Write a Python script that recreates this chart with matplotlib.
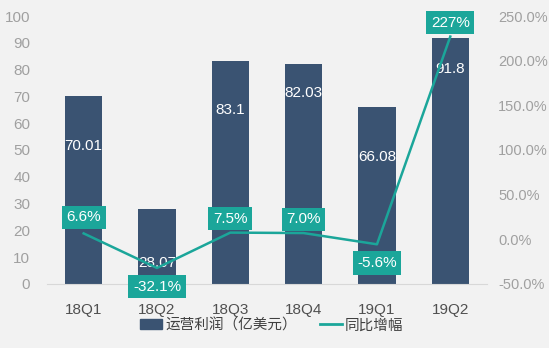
import matplotlib.pyplot as plt
from matplotlib.lines import Line2D
from matplotlib.patches import Patch

plt.rcParams['font.family'] = ['Liberation Sans', 'Noto Sans CJK SC', 'DejaVu Sans']
plt.rcParams['axes.unicode_minus'] = False

quarters = ['18Q1', '18Q2', '18Q3', '18Q4', '19Q1', '19Q2']
profit = [70.01, 28.07, 83.1, 82.03, 66.08, 91.8]
growth = [6.6, -32.1, 7.5, 7.0, -5.6, 227]
growth_text = ['6.6%', '-32.1%', '7.5%', '7.0%', '-5.6%', '227%']

# 柱内数值标签的高度（左轴单位）
profit_label_y = [51.5, 7.8, 65, 71.3, 47.4, 80.2]
# 同比标签相对折线点的偏移（点）
growth_offset = [11.5, -13.5, 10, 10, -13.5, 10]

bar_color = '#3a5372'
teal = '#1ba69a'
bg = '#f2f2f2'

fig = plt.figure(figsize=(5.49, 3.48), dpi=100, facecolor=bg)
ax = fig.add_axes([0.0856, 0.184, 0.8014, 0.77])
ax.set_facecolor(bg)
x = range(len(quarters))

ax.bar(x, profit, width=0.51, color=bar_color, zorder=2)
for i, v in enumerate(profit):
    ax.text(i, profit_label_y[i], str(v), color='white', ha='center',
            va='center', fontsize=11, zorder=3)

ax.set_ylim(0, 100)
ax.set_xlim(-0.5, 5.5)
ax.set_yticks(range(0, 101, 10))
ax.set_xticks(list(x))
ax.set_xticklabels(quarters)
ax.tick_params(axis='y', length=0, colors='#a0a0a0', labelsize=11, pad=12)
ax.tick_params(axis='x', length=0, colors='#505050', labelsize=11, pad=14)
for s in ['top', 'left', 'right']:
    ax.spines[s].set_visible(False)
ax.spines['bottom'].set_color('#d8d8d8')

ax2 = ax.twinx()
ax2.plot(x, growth, color=teal, lw=1.8, zorder=4)
ax2.set_ylim(-50, 250)
ax2.set_yticks(range(-50, 251, 50))
ax2.set_yticklabels([f'{t:.1f}%' for t in range(-50, 251, 50)])
ax2.tick_params(axis='y', length=0, colors='#a0a0a0', labelsize=10.5, pad=8)
for s in ['top', 'left', 'right', 'bottom']:
    ax2.spines[s].set_visible(False)

for i, v in enumerate(growth):
    ax2.annotate(growth_text[i], (i, v), xytext=(0, growth_offset[i]),
                 textcoords='offset points', ha='center', va='center',
                 color='white', fontsize=11, zorder=5, annotation_clip=False,
                 bbox=dict(boxstyle='square,pad=0.3', fc=teal, ec='none'))

handles = [Patch(color=bar_color), Line2D([0], [0], color=teal, lw=2)]
fig.legend(handles, ['运营利润（亿美元）', '同比增幅'], loc='center',
           bbox_to_anchor=(0.495, 0.065), ncol=2, frameon=False, fontsize=10.5,
           labelcolor='#404040', handlelength=1.5, handletextpad=0.2,
           columnspacing=1.6)

fig.savefig('out.png', dpi=100, facecolor=bg)
